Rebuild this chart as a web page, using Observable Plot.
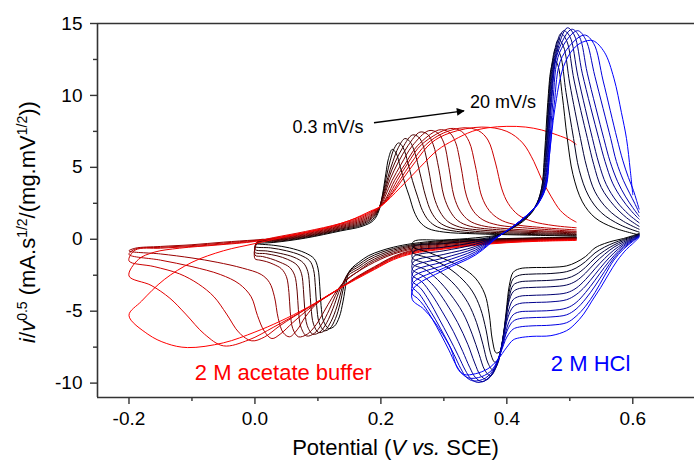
<!DOCTYPE html>
<html><head><meta charset="utf-8">
<script src="https://cdn.jsdelivr.net/npm/d3@7"></script>
<script src="https://cdn.jsdelivr.net/npm/@observablehq/plot@0.6"></script>
<style>
body{margin:0;background:#fff}
#chart svg{font-family:Arial,"Liberation Sans",sans-serif;overflow:visible}
</style>
</head><body><div id="chart"></div>
<script>
// ---- 2 M acetate buffer, 0.3 mV/s (k0, black) ... 20 mV/s (k10, red) : [V, i/v^0.5]
const ac0 = [[0.51,0.15],[0.45,0.1],[0.4,0.05],[0.35,0.0],[0.3,-0.08],[0.25,-0.3],[0.22,-0.55],[0.2,-0.8],[0.18,-1.15],[0.165,-1.6],[0.155,-1.95],[0.149,-2.3],[0.145,-3.0],[0.14,-4.3],[0.134,-5.4],[0.126,-6.05],[0.117,-6.2],[0.109,-5.7],[0.105,-4.6],[0.103,-3.3],[0.1,-2.0],[0.094,-1.35],[0.08,-0.95],[0.055,-0.6],[0.03,-0.42],[0.0,-0.3],
 [0.03,-0.22],[0.08,0.08],[0.136,0.58],[0.17,0.9],[0.188,1.3],[0.197,2.0],[0.203,3.2],[0.208,4.6],[0.212,5.6],[0.218,6.25],[0.224,6.0],[0.231,5.0],[0.238,3.9],[0.245,3.0],[0.253,1.9],[0.262,1.2],[0.275,0.75],[0.3,0.5],[0.35,0.38],[0.42,0.3],[0.51,0.22]];
const ac1 = [[0.51,0.13],[0.45,0.08],[0.4,0.02],[0.35,-0.04],[0.3,-0.14],[0.25,-0.38],[0.22,-0.65],[0.2,-0.92],[0.18,-1.3],[0.165,-1.75],[0.153,-2.1],[0.146,-2.5],[0.141,-3.3],[0.135,-4.5],[0.128,-5.5],[0.119,-6.2],[0.11,-6.35],[0.102,-5.8],[0.098,-4.6],[0.096,-3.3],[0.093,-2.1],[0.087,-1.5],[0.072,-1.1],[0.05,-0.8],[0.025,-0.6],[0.0,-0.5],
 [0.005,-0.22],[0.03,-0.17],[0.08,0.13],[0.136,0.64],[0.17,0.98],[0.187,1.38],[0.196,2.0],[0.203,3.1],[0.209,4.4],[0.215,5.5],[0.221,6.3],[0.228,6.7],[0.235,6.4],[0.243,5.3],[0.25,4.1],[0.258,3.0],[0.266,2.0],[0.276,1.3],[0.29,0.85],[0.32,0.55],[0.38,0.4],[0.45,0.32],[0.51,0.27]];
const ac2 = [[0.51,0.11],[0.45,0.06],[0.4,0.0],[0.35,-0.08],[0.3,-0.2],[0.25,-0.45],[0.22,-0.75],[0.2,-1.05],[0.18,-1.45],[0.165,-1.9],[0.15,-2.3],[0.143,-2.75],[0.137,-3.6],[0.13,-4.7],[0.121,-5.7],[0.111,-6.35],[0.101,-6.48],[0.093,-5.9],[0.089,-4.7],[0.087,-3.4],[0.084,-2.25],[0.077,-1.65],[0.062,-1.25],[0.04,-0.98],[0.02,-0.82],[0.0,-0.7],
 [0.005,-0.2],[0.03,-0.12],[0.08,0.18],[0.136,0.7],[0.17,1.06],[0.186,1.45],[0.196,2.05],[0.203,3.0],[0.211,4.3],[0.219,5.4],[0.228,6.4],[0.238,7.0],[0.246,6.8],[0.254,6.0],[0.262,4.6],[0.271,3.0],[0.28,1.9],[0.292,1.2],[0.31,0.8],[0.35,0.55],[0.42,0.42],[0.51,0.33]];
const ac3 = [[0.51,0.09],[0.45,0.04],[0.4,-0.03],[0.35,-0.12],[0.3,-0.26],[0.25,-0.52],[0.22,-0.85],[0.2,-1.17],[0.18,-1.6],[0.165,-2.05],[0.148,-2.5],[0.14,-3.0],[0.133,-3.7],[0.124,-4.8],[0.114,-5.8],[0.103,-6.45],[0.092,-6.6],[0.083,-6.0],[0.079,-4.8],[0.077,-3.5],[0.074,-2.4],[0.067,-1.8],[0.052,-1.4],[0.035,-1.15],[0.017,-1.0],[0.0,-0.9],
 [0.005,-0.17],[0.03,-0.08],[0.08,0.22],[0.136,0.75],[0.17,1.14],[0.186,1.52],[0.196,2.1],[0.204,3.0],[0.213,4.3],[0.222,5.3],[0.235,6.4],[0.25,7.25],[0.26,7.1],[0.268,6.4],[0.276,4.8],[0.284,3.0],[0.294,1.9],[0.306,1.25],[0.325,0.85],[0.37,0.6],[0.44,0.47],[0.51,0.38]];
const ac4 = [[0.51,0.07],[0.45,0.02],[0.4,-0.06],[0.35,-0.16],[0.3,-0.32],[0.25,-0.6],[0.22,-0.95],[0.2,-1.28],[0.18,-1.72],[0.165,-2.2],[0.148,-2.7],[0.137,-3.2],[0.128,-3.9],[0.118,-4.9],[0.106,-5.9],[0.094,-6.55],[0.082,-6.72],[0.073,-6.1],[0.069,-4.9],[0.067,-3.6],[0.063,-2.5],[0.055,-1.95],[0.04,-1.6],[0.025,-1.35],[0.012,-1.2],[0.0,-1.1],
 [0.005,-0.14],[0.03,-0.05],[0.08,0.27],[0.136,0.81],[0.17,1.22],[0.186,1.6],[0.197,2.15],[0.205,3.0],[0.215,4.2],[0.227,5.3],[0.243,6.5],[0.262,7.45],[0.274,7.3],[0.283,6.6],[0.292,4.9],[0.3,3.0],[0.31,1.95],[0.322,1.3],[0.342,0.9],[0.39,0.65],[0.45,0.53],[0.51,0.45]];
const ac5 = [[0.51,0.05],[0.45,0.0],[0.4,-0.09],[0.35,-0.2],[0.3,-0.38],[0.25,-0.68],[0.22,-1.03],[0.2,-1.38],[0.18,-1.82],[0.16,-2.35],[0.145,-2.85],[0.133,-3.4],[0.122,-4.1],[0.11,-5.0],[0.097,-5.95],[0.083,-6.6],[0.069,-6.78],[0.06,-6.2],[0.056,-5.0],[0.054,-3.7],[0.05,-2.6],[0.042,-2.05],[0.03,-1.75],[0.018,-1.55],[0.008,-1.45],[0.0,-1.35],
 [0.005,-0.1],[0.03,-0.02],[0.08,0.32],[0.136,0.87],[0.17,1.3],[0.186,1.68],[0.198,2.2],[0.207,3.0],[0.218,4.1],[0.232,5.2],[0.25,6.5],[0.276,7.55],[0.29,7.4],[0.3,6.7],[0.308,5.0],[0.316,3.0],[0.326,1.95],[0.34,1.3],[0.36,0.95],[0.41,0.7],[0.46,0.58],[0.51,0.5]];
const ac6 = [[0.51,0.03],[0.45,-0.03],[0.4,-0.12],[0.35,-0.25],[0.3,-0.45],[0.25,-0.76],[0.22,-1.2],[0.19,-1.9],[0.16,-2.65],[0.133,-3.45],[0.1,-4.4],[0.08,-5.4],[0.067,-6.3],[0.055,-6.78],[0.045,-6.5],[0.037,-5.5],[0.031,-4.0],[0.023,-3.0],[0.01,-2.45],[-0.02,-2.0],[-0.06,-1.6],[-0.1,-1.3],[-0.15,-1.02],[-0.2,-0.81],
 [-0.19,-0.62],[-0.15,-0.5],[-0.1,-0.38],[-0.05,-0.2],[0.0,-0.05],[0.03,0.03],[0.08,0.37],[0.136,0.93],[0.17,1.38],[0.186,1.75],[0.199,2.25],[0.21,3.0],[0.222,4.1],[0.238,5.2],[0.258,6.5],[0.292,7.6],[0.308,7.45],[0.318,6.8],[0.327,5.1],[0.336,3.0],[0.347,1.95],[0.362,1.35],[0.385,1.0],[0.44,0.75],[0.51,0.55]];
const ac7 = [[0.51,0.01],[0.45,-0.05],[0.4,-0.15],[0.35,-0.3],[0.3,-0.52],[0.25,-0.82],[0.22,-1.25],[0.19,-1.95],[0.16,-2.7],[0.133,-3.47],[0.09,-4.7],[0.06,-5.8],[0.04,-6.6],[0.027,-6.9],[0.015,-6.4],[0.004,-5.3],[-0.006,-4.0],[-0.025,-3.1],[-0.055,-2.45],[-0.1,-1.9],[-0.15,-1.45],[-0.2,-1.05],
 [-0.19,-0.68],[-0.15,-0.56],[-0.1,-0.44],[-0.05,-0.26],[0.0,-0.08],[0.03,0.05],[0.08,0.42],[0.136,0.98],[0.17,1.46],[0.186,1.83],[0.2,2.3],[0.212,3.0],[0.226,4.1],[0.243,5.3],[0.265,6.6],[0.31,7.7],[0.328,7.5],[0.34,6.8],[0.35,5.1],[0.36,3.0],[0.372,2.0],[0.388,1.4],[0.41,1.05],[0.46,0.8],[0.51,0.65]];
const ac8 = [[0.51,-0.02],[0.45,-0.08],[0.4,-0.18],[0.35,-0.34],[0.3,-0.58],[0.25,-0.88],[0.22,-1.3],[0.19,-2.0],[0.16,-2.72],[0.133,-3.47],[0.083,-4.8],[0.04,-6.0],[0.015,-6.8],[-0.005,-7.06],[-0.025,-6.5],[-0.045,-5.2],[-0.065,-4.0],[-0.09,-3.1],[-0.12,-2.4],[-0.16,-1.9],[-0.2,-1.5],
 [-0.19,-0.75],[-0.15,-0.62],[-0.1,-0.5],[-0.05,-0.32],[0.0,-0.12],[0.03,0.08],[0.08,0.48],[0.136,1.04],[0.17,1.54],[0.186,1.9],[0.2,2.3],[0.214,3.0],[0.23,4.1],[0.248,5.3],[0.272,6.6],[0.3,7.4],[0.332,7.75],[0.355,7.55],[0.37,6.9],[0.382,5.3],[0.392,3.5],[0.402,2.5],[0.418,1.7],[0.44,1.25],[0.475,0.95],[0.51,0.8]];
const ac9 = [[0.51,-0.05],[0.45,-0.11],[0.4,-0.21],[0.35,-0.38],[0.3,-0.63],[0.25,-0.94],[0.22,-1.36],[0.19,-2.05],[0.16,-2.75],[0.133,-3.45],[0.083,-4.8],[0.03,-6.1],[-0.01,-7.0],[-0.05,-7.41],[-0.08,-6.6],[-0.11,-5.2],[-0.135,-4.1],[-0.165,-3.2],[-0.2,-2.55],
 [-0.185,-1.4],[-0.16,-0.9],[-0.12,-0.62],[-0.06,-0.4],[0.0,-0.15],[0.03,0.12],[0.08,0.54],[0.136,1.1],[0.17,1.62],[0.186,1.95],[0.2,2.3],[0.217,3.1],[0.235,4.2],[0.255,5.4],[0.28,6.7],[0.31,7.4],[0.36,7.8],[0.4,7.5],[0.425,6.7],[0.443,5.4],[0.455,4.2],[0.47,3.0],[0.485,2.0],[0.5,1.45],[0.51,1.2]];
const ac10 = [[0.51,-0.08],[0.45,-0.14],[0.4,-0.24],[0.35,-0.42],[0.3,-0.68],[0.25,-1.0],[0.22,-1.42],[0.19,-2.1],[0.16,-2.8],[0.133,-3.45],[0.083,-4.75],[0.04,-5.7],[0.0,-6.45],[-0.05,-7.2],[-0.107,-7.53],[-0.14,-7.25],[-0.17,-6.6],[-0.2,-5.3],
 [-0.18,-4.3],[-0.144,-2.8],[-0.1,-1.6],[-0.05,-0.8],[0.0,-0.3],[0.05,0.2],[0.1,0.65],[0.15,1.3],[0.184,1.97],[0.2,2.3],[0.231,3.6],[0.262,5.0],[0.29,6.2],[0.316,6.9],[0.345,7.5],[0.37,7.75],[0.4,7.85],[0.43,7.8],[0.455,7.6],[0.48,7.25],[0.5,6.9],[0.51,6.6]];

// ---- 2 M HCl, slow (h0, black) ... fast (h9, blue)
const hc0 = [[0.61,0.4],[0.6,0.25],[0.585,0.05],[0.57,-0.1],[0.555,-0.3],[0.54,-0.6],[0.525,-1.2],[0.51,-1.6],[0.495,-1.85],[0.47,-1.95],[0.44,-1.97],[0.42,-2.05],[0.41,-2.3],[0.404,-3.2],[0.399,-5.0],[0.394,-6.8],[0.389,-7.8],[0.383,-7.9],[0.377,-7.0],[0.372,-5.2],[0.365,-3.8],[0.35,-2.7],[0.33,-2.0],[0.3,-1.35],[0.275,-0.9],[0.25,-0.5],
 [0.252,-0.15],[0.3,-0.05],[0.35,0.1],[0.39,0.35],[0.41,0.8],[0.43,1.4],[0.445,2.2],[0.455,3.5],[0.46,6.0],[0.465,9.5],[0.47,11.8],[0.475,12.5],[0.481,12.1],[0.488,10.0],[0.496,7.0],[0.505,4.5],[0.52,2.6],[0.54,1.5],[0.57,0.8],[0.61,0.3]];
const hc1 = [[0.61,0.37],[0.6,0.2],[0.585,-0.02],[0.57,-0.25],[0.555,-0.55],[0.54,-0.95],[0.525,-1.55],[0.51,-2.0],[0.495,-2.25],[0.47,-2.38],[0.44,-2.42],[0.42,-2.5],[0.41,-2.75],[0.404,-3.6],[0.399,-5.3],[0.393,-7.1],[0.387,-8.3],[0.381,-8.55],[0.374,-7.9],[0.367,-6.3],[0.358,-4.8],[0.345,-3.6],[0.325,-2.6],[0.3,-1.8],[0.275,-1.3],[0.25,-0.9],
 [0.252,-0.5],[0.3,-0.3],[0.35,-0.05],[0.39,0.33],[0.41,0.82],[0.43,1.45],[0.445,2.25],[0.455,3.5],[0.461,6.0],[0.466,9.5],[0.471,12.0],[0.478,13.3],[0.485,12.8],[0.494,10.2],[0.506,7.0],[0.515,4.8],[0.53,3.0],[0.55,1.85],[0.58,1.0],[0.61,0.5]];
const hc2 = [[0.61,0.34],[0.6,0.15],[0.585,-0.1],[0.57,-0.4],[0.555,-0.8],[0.54,-1.3],[0.525,-1.95],[0.51,-2.45],[0.495,-2.72],[0.47,-2.85],[0.44,-2.9],[0.42,-2.97],[0.41,-3.2],[0.404,-4.0],[0.398,-5.6],[0.392,-7.4],[0.385,-8.7],[0.378,-9.1],[0.37,-8.6],[0.362,-7.3],[0.352,-5.8],[0.338,-4.4],[0.318,-3.2],[0.295,-2.3],[0.272,-1.7],[0.25,-1.3],
 [0.252,-0.85],[0.3,-0.55],[0.35,-0.2],[0.39,0.32],[0.41,0.84],[0.43,1.5],[0.445,2.28],[0.456,3.5],[0.462,6.0],[0.467,9.5],[0.473,12.3],[0.482,13.9],[0.49,13.4],[0.5,10.8],[0.517,7.0],[0.527,5.0],[0.54,3.3],[0.56,2.1],[0.585,1.25],[0.61,0.7]];
const hc3 = [[0.61,0.31],[0.6,0.1],[0.585,-0.2],[0.57,-0.55],[0.555,-1.05],[0.54,-1.65],[0.525,-2.35],[0.51,-2.9],[0.495,-3.18],[0.47,-3.3],[0.44,-3.35],[0.42,-3.42],[0.41,-3.65],[0.403,-4.4],[0.397,-6.0],[0.39,-7.8],[0.382,-9.0],[0.374,-9.5],[0.365,-9.1],[0.356,-8.0],[0.345,-6.6],[0.33,-5.1],[0.31,-3.8],[0.29,-2.8],[0.27,-2.1],[0.25,-1.7],
 [0.252,-1.2],[0.3,-0.8],[0.35,-0.35],[0.39,0.31],[0.41,0.86],[0.43,1.52],[0.446,2.3],[0.457,3.5],[0.463,6.0],[0.468,9.5],[0.475,12.5],[0.486,14.3],[0.495,13.8],[0.507,11.0],[0.528,7.0],[0.538,5.2],[0.55,3.6],[0.57,2.35],[0.59,1.5],[0.61,0.9]];
const hc4 = [[0.61,0.28],[0.6,0.05],[0.585,-0.3],[0.57,-0.75],[0.555,-1.35],[0.54,-2.05],[0.525,-2.8],[0.51,-3.4],[0.495,-3.72],[0.47,-3.85],[0.44,-3.9],[0.42,-3.97],[0.41,-4.2],[0.403,-4.9],[0.396,-6.4],[0.388,-8.1],[0.378,-9.3],[0.368,-9.75],[0.358,-9.45],[0.349,-8.6],[0.338,-7.3],[0.322,-5.8],[0.303,-4.4],[0.285,-3.3],[0.267,-2.55],[0.25,-2.1],
 [0.252,-1.55],[0.3,-1.05],[0.35,-0.5],[0.39,0.31],[0.41,0.87],[0.43,1.54],[0.446,2.32],[0.458,3.5],[0.464,6.0],[0.469,9.5],[0.477,12.7],[0.49,14.5],[0.5,14.1],[0.513,11.3],[0.536,7.0],[0.546,5.3],[0.558,3.8],[0.575,2.6],[0.593,1.75],[0.61,1.15]];
const hc5 = [[0.61,0.25],[0.6,0.0],[0.585,-0.4],[0.57,-0.95],[0.555,-1.65],[0.54,-2.45],[0.525,-3.25],[0.51,-3.85],[0.495,-4.2],[0.47,-4.35],[0.44,-4.4],[0.42,-4.47],[0.41,-4.7],[0.402,-5.4],[0.395,-6.8],[0.386,-8.4],[0.374,-9.5],[0.361,-9.9],[0.35,-9.6],[0.341,-8.9],[0.33,-7.8],[0.315,-6.4],[0.297,-5.0],[0.28,-3.8],[0.265,-2.95],[0.25,-2.5],
 [0.252,-1.9],[0.3,-1.3],[0.35,-0.62],[0.39,0.3],[0.41,0.88],[0.43,1.56],[0.447,2.34],[0.459,3.5],[0.465,6.0],[0.47,9.5],[0.479,12.9],[0.496,14.7],[0.507,14.2],[0.52,11.5],[0.546,7.0],[0.556,5.4],[0.568,3.9],[0.582,2.85],[0.597,2.0],[0.61,1.4]];
const hc6 = [[0.61,0.22],[0.6,-0.05],[0.585,-0.5],[0.57,-1.15],[0.555,-1.95],[0.54,-2.85],[0.525,-3.7],[0.51,-4.4],[0.495,-4.78],[0.47,-4.95],[0.44,-5.0],[0.42,-5.05],[0.41,-5.25],[0.402,-5.9],[0.394,-7.2],[0.384,-8.7],[0.37,-9.7],[0.354,-9.95],[0.343,-9.7],[0.334,-9.1],[0.323,-8.1],[0.308,-6.8],[0.292,-5.5],[0.277,-4.3],[0.263,-3.4],[0.25,-2.9],
 [0.252,-2.25],[0.3,-1.55],[0.35,-0.75],[0.39,0.3],[0.41,0.89],[0.43,1.58],[0.447,2.36],[0.46,3.5],[0.466,6.0],[0.471,9.5],[0.481,13.0],[0.503,14.6],[0.515,14.1],[0.528,11.5],[0.554,7.0],[0.564,5.4],[0.576,4.0],[0.588,3.0],[0.6,2.2],[0.61,1.6]];
const hc7 = [[0.61,0.19],[0.6,-0.1],[0.585,-0.6],[0.57,-1.3],[0.555,-2.25],[0.54,-3.25],[0.525,-4.15],[0.51,-4.85],[0.495,-5.25],[0.47,-5.4],[0.44,-5.45],[0.42,-5.52],[0.41,-5.7],[0.401,-6.3],[0.392,-7.6],[0.381,-8.9],[0.366,-9.65],[0.347,-9.85],[0.336,-9.6],[0.327,-9.0],[0.316,-8.0],[0.302,-6.8],[0.287,-5.6],[0.273,-4.6],[0.261,-3.8],[0.25,-3.3],
 [0.252,-2.6],[0.3,-1.8],[0.35,-0.88],[0.39,0.3],[0.41,0.9],[0.43,1.6],[0.448,2.38],[0.461,3.5],[0.467,6.0],[0.473,9.5],[0.484,13.0],[0.512,14.5],[0.525,13.9],[0.54,11.3],[0.565,7.0],[0.574,5.4],[0.585,4.1],[0.595,3.2],[0.603,2.5],[0.61,1.85]];
const hc8 = [[0.61,0.16],[0.6,-0.15],[0.585,-0.7],[0.57,-1.45],[0.555,-2.55],[0.54,-3.7],[0.525,-4.65],[0.51,-5.35],[0.495,-5.8],[0.47,-5.97],[0.44,-6.02],[0.42,-6.1],[0.41,-6.25],[0.4,-6.8],[0.39,-7.9],[0.377,-9.05],[0.36,-9.55],[0.34,-9.65],[0.329,-9.35],[0.319,-8.7],[0.308,-7.7],[0.295,-6.6],[0.281,-5.5],[0.268,-4.6],[0.258,-4.1],[0.25,-3.8],
 [0.252,-3.0],[0.3,-2.0],[0.35,-1.0],[0.39,0.3],[0.41,0.9],[0.43,1.6],[0.448,2.4],[0.462,3.6],[0.468,6.0],[0.475,9.3],[0.488,12.7],[0.523,14.2],[0.538,13.6],[0.553,11.0],[0.575,7.0],[0.584,5.5],[0.593,4.3],[0.601,3.4],[0.606,2.7],[0.61,2.1]];
const hc9 = [[0.61,0.12],[0.6,-0.3],[0.59,-0.7],[0.575,-1.5],[0.562,-2.4],[0.549,-3.36],[0.535,-4.3],[0.522,-5.2],[0.508,-5.9],[0.495,-6.35],[0.47,-6.7],[0.44,-6.75],[0.42,-6.85],[0.41,-7.0],[0.4,-7.5],[0.385,-8.4],[0.37,-9.0],[0.35,-9.35],[0.332,-9.4],[0.322,-9.0],[0.311,-7.6],[0.298,-6.6],[0.284,-5.67],[0.268,-4.85],[0.25,-4.2],
 [0.252,-3.4],[0.3,-2.15],[0.35,-1.1],[0.39,0.3],[0.41,0.9],[0.43,1.6],[0.449,2.4],[0.462,3.8],[0.468,6.0],[0.476,9.0],[0.49,12.0],[0.505,13.2],[0.52,13.7],[0.537,13.8],[0.555,13.0],[0.57,11.2],[0.582,8.8],[0.59,7.0],[0.596,4.8],[0.6,3.1]];

const acetateCurves = [ac0, ac1, ac2, ac3, ac4, ac5, ac6, ac7, ac8, ac9, ac10];
const hclCurves = [hc0, hc1, hc2, hc3, hc4, hc5, hc6, hc7, hc8, hc9];

// ---- axes
const xMajor = [-0.2, 0.0, 0.2, 0.4, 0.6];
const xMinor = [-0.1, 0.1, 0.3, 0.5];
const yMajor = [-10, -5, 0, 5, 10, 15];
const yMinor = [-7.5, -2.5, 2.5, 7.5, 12.5];

// ---- annotations
const rateText = ["0.3 mV/s", "20 mV/s"];
const rateX = [0.116, 0.394];
const rateY = [7.82, 9.5];
const arrowFrom = [0.189, 8.1];
const arrowTo = [0.332, 8.92];
const mediumText = ["2 M acetate buffer", "2 M HCl"];
const mediumX = [0.045, 0.533];
const mediumY = [-9.27, -8.7];
const mediumColor = ["#ff0000", "#0000ff"];

const acColor = d3.interpolateRgb("#000000", "#ff0000");
const hcColor = d3.interpolateRgb("#000000", "#0000ff");
const axisColor = "#333";

const lineMarks = [
  ...acetateCurves.map((c, k) => Plot.line(c, {x: d => d[0], y: d => d[1], stroke: acColor(k / (acetateCurves.length - 1)), strokeWidth: 1, curve: "catmull-rom"})),
  ...hclCurves.map((c, j) => Plot.line(c, {x: d => d[0], y: d => d[1], stroke: hcColor(j / (hclCurves.length - 1)), strokeWidth: 1, curve: "catmull-rom"}))
];

const xDomain = [-0.25, 0.698];
const yDomain = [-11, 15];

const chart = Plot.plot({
  width: 694, height: 461,
  marginLeft: 97, marginRight: 0, marginTop: 23, marginBottom: 64,
  style: {fontFamily: "Arial, 'Liberation Sans', sans-serif", fontSize: "19px", color: "#000", background: "#fff", overflow: "visible"},
  x: {domain: xDomain},
  y: {domain: yDomain},
  marks: [
    ...lineMarks,
    Plot.ruleY([yDomain[1]], {stroke: axisColor, strokeWidth: 1.6}),
    Plot.ruleY([yDomain[0]], {stroke: axisColor, strokeWidth: 1.6}),
    Plot.ruleX([xDomain[0]], {stroke: axisColor, strokeWidth: 1.6}),
    Plot.axisX({ticks: xMajor, tickSize: 7, tickPadding: 7, tickFormat: d => d.toFixed(1), stroke: axisColor, strokeWidth: 1.4, fontSize: 19, label: null}),
    Plot.axisX({ticks: xMinor, tickSize: 4, tickFormat: () => "", stroke: axisColor, strokeWidth: 1.4, label: null}),
    Plot.axisY({ticks: yMajor, tickSize: 7, tickPadding: 8, tickFormat: d => String(d), stroke: axisColor, strokeWidth: 1.4, fontSize: 19, label: null}),
    Plot.axisY({ticks: yMinor, tickSize: 4, tickFormat: () => "", stroke: axisColor, strokeWidth: 1.4, label: null}),
    Plot.text(rateText, {x: (d, i) => rateX[i], y: (d, i) => rateY[i], text: d => d, fontSize: 18, fill: "#000"}),
    Plot.link([0], {x1: () => arrowFrom[0], y1: () => arrowFrom[1], x2: () => arrowTo[0], y2: () => arrowTo[1], stroke: "#000", strokeWidth: 1.3, className: "ratearrow"}),
    Plot.text(mediumText, {x: (d, i) => mediumX[i], y: (d, i) => mediumY[i], text: d => d, fontSize: 22, fill: (d, i) => mediumColor[i]})
  ]
});

document.getElementById("chart").appendChild(chart);

// arrowhead marker
const svg = d3.select(chart);
svg.append("defs").append("marker")
  .attr("id", "ah").attr("viewBox", "0 0 10 10").attr("refX", 9).attr("refY", 5)
  .attr("markerWidth", 11).attr("markerHeight", 8).attr("markerUnits", "userSpaceOnUse")
  .attr("orient", "auto")
  .append("path").attr("d", "M0,0L10,5L0,10Z").attr("fill", "#000");
svg.selectAll(".ratearrow path").attr("marker-end", "url(#ah)");

// axis titles with rich text
const xs = chart.scale("x"), ys = chart.scale("y");
const xMid = (xs.range[0] + xs.range[1]) / 2;
const yMid = (ys.range[0] + ys.range[1]) / 2 + 12;

const xt = svg.append("text").attr("x", xMid).attr("y", 455).attr("text-anchor", "middle")
  .attr("font-size", 22).attr("fill", "#000");
xt.append("tspan").text("Potential (");
xt.append("tspan").attr("font-style", "italic").text("V vs.");
xt.append("tspan").text(" SCE)");

const yt = svg.append("text").attr("transform", `translate(35,${yMid}) rotate(-90)`).attr("text-anchor", "middle")
  .attr("font-size", 22).attr("fill", "#000");
yt.append("tspan").attr("font-style", "italic").text("i");
yt.append("tspan").text("/");
yt.append("tspan").attr("font-style", "italic").text("v");
yt.append("tspan").attr("font-size", 14).attr("dy", -8).text("0.5");
yt.append("tspan").attr("dy", 8).text(" (mA.s");
yt.append("tspan").attr("font-size", 14).attr("dy", -8).text("1/2");
yt.append("tspan").attr("dy", 8).text("/(mg.mV");
yt.append("tspan").attr("font-size", 14).attr("dy", -8).text("1/2");
yt.append("tspan").attr("dy", 8).text("))");
</script></body></html>
